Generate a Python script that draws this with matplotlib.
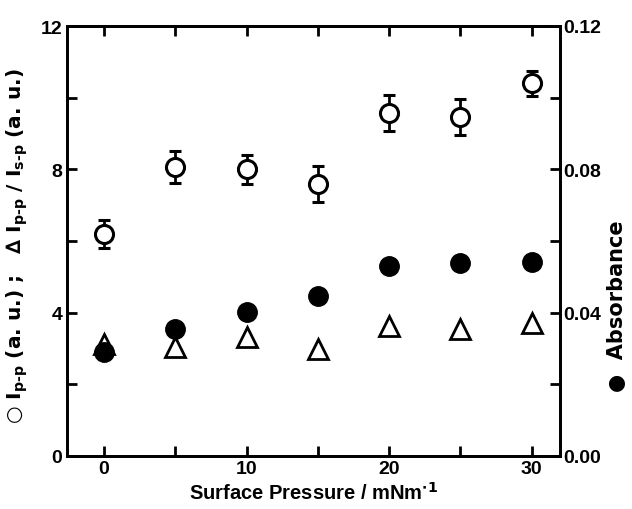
import matplotlib
matplotlib.use('Agg')
import matplotlib.pyplot as plt

# Data
pressure = [0, 5, 10, 15, 20, 25, 30]
ipp = [6.2, 8.07, 8.0, 7.6, 9.58, 9.47, 10.4]
ipp_err = [0.4, 0.45, 0.4, 0.5, 0.5, 0.5, 0.35]
ratio = [3.13, 3.04, 3.32, 2.99, 3.63, 3.55, 3.72]
absorbance = [0.029, 0.0355, 0.0402, 0.0447, 0.053, 0.0538, 0.0542]

plt.rcParams['font.family'] = ['Liberation Sans', 'DejaVu Sans']
plt.rcParams['font.weight'] = 'bold'

fig = plt.figure(figsize=(6.32, 5.10), dpi=100)
ax = fig.add_axes([67 / 632, 53 / 510, (560 - 67) / 632, (457 - 27) / 510])

ax.errorbar(pressure, ipp, yerr=ipp_err, fmt='o', mfc='white', mec='black',
            mew=2.2, ms=13, ecolor='black', elinewidth=2, capsize=4, capthick=2,
            zorder=3)
ax.plot(pressure, ratio, '^', mfc='white', mec='black', mew=2, ms=14, zorder=3)

ax.set_xlim(-2.6, 32)
ax.set_ylim(0, 12)
ax.set_xticks([0, 5, 10, 15, 20, 25, 30])
ax.set_xticklabels(['0', '', '10', '', '20', '', '30'])
ax.set_yticks([0, 2, 4, 6, 8, 10, 12])
ax.set_yticklabels(['0', '', '4', '', '8', '', '12'])
ax.tick_params(direction='in', length=7, width=2, labelsize=14, top=True)
ax.tick_params(axis='x', pad=3)
for s in ax.spines.values():
    s.set_linewidth(2)

ax.set_xlabel('Surface Pressure / mNm$^{\\mathbf{\\cdot 1}}$', fontsize=14.5,
              fontweight='bold', labelpad=3)
ax.set_ylabel('○ I$_{\\mathbf{p\\text{-}p}}$ (a. u.) ;   ∆ I$_{\\mathbf{p\\text{-}p}}$ / I$_{\\mathbf{s\\text{-}p}}$ (a. u.)',
              fontsize=14.5, fontweight='bold', family=['DejaVu Sans'])
ax.yaxis.set_label_coords(-0.075, 0.49)

ax2 = ax.twinx()
ax2.plot(pressure, absorbance, 'o', color='black', ms=14, zorder=3)
ax2.set_ylim(0, 0.12)
ax2.set_yticks([0, 0.02, 0.04, 0.06, 0.08, 0.10, 0.12])
ax2.set_yticklabels(['0.00', '', '0.04', '', '0.08', '', '0.12'])
ax2.tick_params(direction='in', length=7, width=2, labelsize=14, pad=2)
for s in ax2.spines.values():
    s.set_linewidth(2)
ax2.set_ylabel('●  Absorbance', fontsize=15, fontweight='bold',
               family=['DejaVu Sans'])
ax2.yaxis.set_label_coords(1.095, 0.35)

fig.savefig('out.png', dpi=100)
